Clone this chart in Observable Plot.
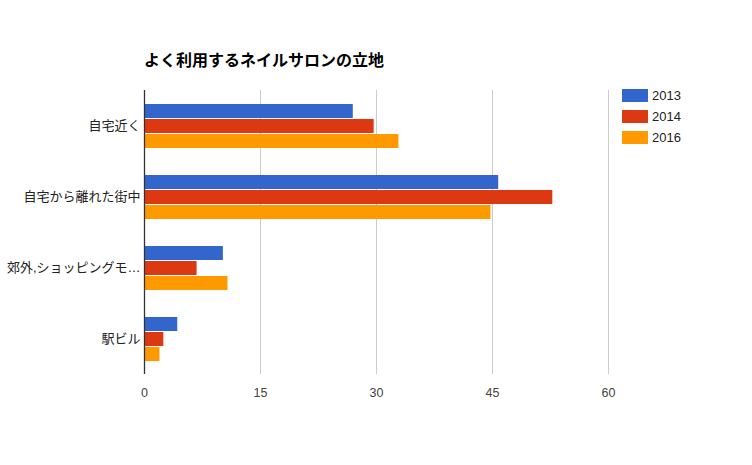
<!DOCTYPE html>
<html>
<head>
<meta charset="utf-8">
<script src="https://cdn.jsdelivr.net/npm/d3@7"></script>
<script src="https://cdn.jsdelivr.net/npm/@observablehq/plot@0.6"></script>
<style>
  body { margin: 0; background: #fff; }
  #wrap { position: relative; width: 752px; height: 465px; font-family: "Liberation Sans", Arial, "Noto Sans CJK JP", sans-serif; }
  #title { position: absolute; left: 144px; top: 49px; font-size: 16px; font-weight: bold; color: #000; line-height: 20px; font-family: "Noto Sans CJK JP", sans-serif; white-space: nowrap; }
  .sw { position: absolute; left: 622px; width: 26px; height: 12.5px; }
  .lab { position: absolute; left: 652px; font-size: 13px; color: #222; line-height: 13px; }
  svg { position: absolute; left: 0; top: 0; }
</style>
</head>
<body>
<div id="wrap">
  <div id="title">よく利用するネイルサロンの立地</div>
</div>
<script>
const categories = ["自宅近く", "自宅から離れた街中", "郊外,ショッピングモ…", "駅ビル"];
const years = ["2013", "2014", "2016"];
const colors = ["#3366CC", "#DC3912", "#FF9900"];
const values2013 = [27.0, 45.8, 10.2, 4.3];
const values2014 = [29.7, 52.8, 6.8, 2.5];
const values2016 = [32.9, 44.8, 10.8, 2.0];
const xTicks = [0, 15, 30, 45, 60];

const series = [values2013, values2014, values2016];
const data = [];
categories.forEach((c, i) => {
  years.forEach((y, j) => data.push({category: c, year: y, value: series[j][i]}));
});

const chart = Plot.plot({
  width: 752,
  height: 465,
  marginLeft: 144,
  marginRight: 144,
  marginTop: 89,
  marginBottom: 90,
  style: {fontFamily: '"Liberation Sans", Arial, "Noto Sans CJK JP", sans-serif', background: "transparent"},
  x: {domain: [0, 60], axis: null},
  y: {domain: years, axis: null, paddingInner: 0.08, paddingOuter: 0.89},
  fy: {domain: categories, padding: 0, axis: null, label: null},
  color: {domain: years, range: colors},
  marks: [
    Plot.ruleX(xTicks.filter(d => d !== 0), {stroke: "#cccccc", strokeWidth: 1}),
    Plot.barX(data, {x: "value", y: "year", fy: "category", fill: "year"}),
    Plot.ruleX([0], {stroke: "#333333", strokeWidth: 1.3}),
    Plot.axisFy({anchor: "left", tickSize: 0, tickPadding: 4, fontSize: 13, fill: "#222", label: null}),
    Plot.axisX({ticks: xTicks, tickSize: 0, tickPadding: 14, fontSize: 12.5, fill: "#444", label: null})
  ]
});
const wrap = document.getElementById("wrap");
wrap.appendChild(chart);

years.forEach((y, i) => {
  const top = 89 + i * 21;
  const sw = document.createElement("div");
  sw.className = "sw";
  sw.style.top = top + "px";
  sw.style.background = colors[i];
  const lab = document.createElement("div");
  lab.className = "lab";
  lab.style.top = (top - 0.5) + "px";
  lab.textContent = y;
  wrap.appendChild(sw);
  wrap.appendChild(lab);
});
</script>
</body>
</html>
